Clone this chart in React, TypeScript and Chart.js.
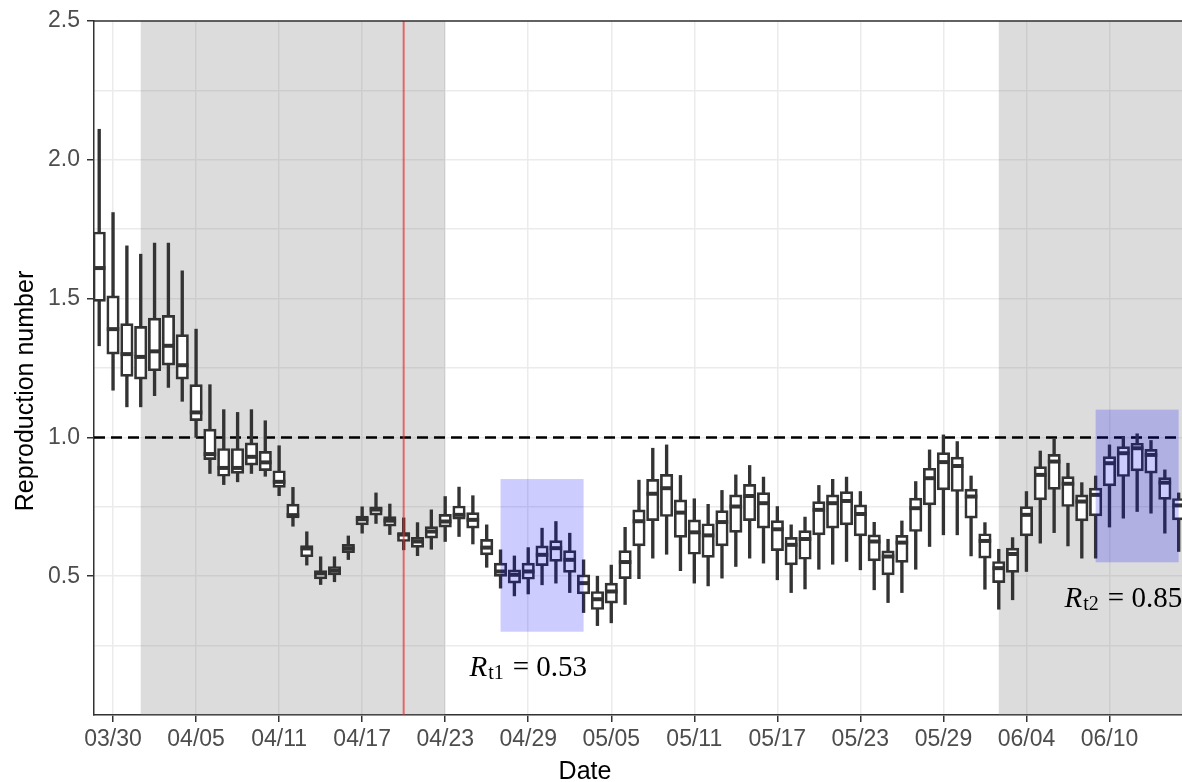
import { useEffect, useRef } from "react";
import { Chart, registerables } from "chart.js";

Chart.register(...registerables);

// ---- categories (one box per day) ----
const dates = [
  "03/29", "03/30", "03/31",
  "04/01", "04/02", "04/03", "04/04", "04/05", "04/06", "04/07", "04/08", "04/09", "04/10",
  "04/11", "04/12", "04/13", "04/14", "04/15", "04/16", "04/17", "04/18", "04/19", "04/20",
  "04/21", "04/22", "04/23", "04/24", "04/25", "04/26", "04/27", "04/28", "04/29", "04/30",
  "05/01", "05/02", "05/03", "05/04", "05/05", "05/06", "05/07", "05/08", "05/09", "05/10",
  "05/11", "05/12", "05/13", "05/14", "05/15", "05/16", "05/17", "05/18", "05/19", "05/20",
  "05/21", "05/22", "05/23", "05/24", "05/25", "05/26", "05/27", "05/28", "05/29", "05/30",
  "05/31",
  "06/01", "06/02", "06/03", "06/04", "06/05", "06/06", "06/07", "06/08", "06/09", "06/10",
  "06/11", "06/12", "06/13", "06/14", "06/15",
];

// ---- box plot statistics ----
const lowWhisker = [
  1.33, 1.17, 1.11, 1.11, 1.15, 1.18, 1.13, 1.0, 0.87, 0.83,
  0.84, 0.87, 0.86, 0.79, 0.68, 0.54, 0.47, 0.48, 0.56, 0.655,
  0.69, 0.65, 0.595, 0.574, 0.597, 0.625, 0.643, 0.616, 0.532, 0.457,
  0.429, 0.436, 0.469, 0.475, 0.441, 0.369, 0.322, 0.332, 0.398, 0.491,
  0.565, 0.579, 0.52, 0.475, 0.465, 0.493, 0.535, 0.565, 0.547, 0.487,
  0.441, 0.454, 0.525, 0.543, 0.553, 0.523, 0.451, 0.405, 0.441, 0.525,
  0.607, 0.649, 0.649, 0.573, 0.453, 0.381, 0.415, 0.517, 0.619, 0.657,
  0.609, 0.565, 0.565, 0.677, 0.709, 0.733, 0.727, 0.655, 0.589,
];
const q1 = [
  1.49, 1.3, 1.22, 1.21, 1.24, 1.26, 1.21, 1.06, 0.92, 0.86,
  0.87, 0.9, 0.88, 0.82, 0.71, 0.57, 0.49, 0.505, 0.585, 0.685,
  0.72, 0.68, 0.625, 0.604, 0.637, 0.677, 0.705, 0.673, 0.577, 0.499,
  0.475, 0.489, 0.538, 0.553, 0.514, 0.436, 0.38, 0.403, 0.491, 0.609,
  0.7, 0.715, 0.64, 0.579, 0.568, 0.609, 0.658, 0.7, 0.673, 0.592,
  0.541, 0.561, 0.649, 0.673, 0.685, 0.645, 0.555, 0.505, 0.55, 0.661,
  0.757, 0.811, 0.805, 0.709, 0.565, 0.477, 0.514, 0.645, 0.775, 0.813,
  0.751, 0.699, 0.717, 0.825, 0.859, 0.879, 0.871, 0.777, 0.703,
];
const median = [
  1.61, 1.39, 1.3, 1.29, 1.31, 1.33, 1.26, 1.09, 0.94, 0.89,
  0.89, 0.93, 0.91, 0.84, 0.72, 0.6, 0.51, 0.52, 0.6, 0.705,
  0.74, 0.7, 0.65, 0.625, 0.661, 0.697, 0.721, 0.703, 0.603, 0.517,
  0.505, 0.517, 0.577, 0.601, 0.559, 0.475, 0.417, 0.445, 0.551, 0.698,
  0.797, 0.817, 0.729, 0.658, 0.647, 0.695, 0.751, 0.789, 0.763, 0.669,
  0.613, 0.634, 0.739, 0.763, 0.771, 0.724, 0.625, 0.571, 0.621, 0.745,
  0.853, 0.911, 0.897, 0.787, 0.627, 0.529, 0.58, 0.721, 0.865, 0.913,
  0.833, 0.769, 0.793, 0.907, 0.943, 0.961, 0.937, 0.837, 0.755,
];
const q3 = [
  1.74, 1.51, 1.41, 1.4, 1.43, 1.44, 1.37, 1.19, 1.03, 0.96,
  0.96, 0.98, 0.95, 0.88, 0.76, 0.61, 0.52, 0.535, 0.615, 0.717,
  0.75, 0.715, 0.657, 0.64, 0.679, 0.723, 0.753, 0.729, 0.633, 0.547,
  0.523, 0.547, 0.609, 0.628, 0.592, 0.505, 0.445, 0.475, 0.592, 0.739,
  0.849, 0.867, 0.775, 0.703, 0.689, 0.736, 0.793, 0.831, 0.801, 0.7,
  0.64, 0.664, 0.769, 0.793, 0.805, 0.757, 0.649, 0.591, 0.647, 0.781,
  0.889, 0.945, 0.929, 0.814, 0.653, 0.553, 0.601, 0.751, 0.895, 0.939,
  0.859, 0.793, 0.817, 0.931, 0.967, 0.979, 0.957, 0.855, 0.78,
];
const highWhisker = [
  2.11, 1.81, 1.69, 1.66, 1.7, 1.7, 1.6, 1.39, 1.19, 1.1,
  1.09, 1.1, 1.06, 0.97, 0.82, 0.66, 0.57, 0.57, 0.645, 0.75,
  0.8, 0.76, 0.71, 0.693, 0.739, 0.787, 0.821, 0.79, 0.685, 0.595,
  0.573, 0.603, 0.673, 0.697, 0.655, 0.559, 0.5, 0.54, 0.676, 0.846,
  0.961, 0.973, 0.863, 0.779, 0.759, 0.809, 0.865, 0.899, 0.857, 0.751,
  0.685, 0.713, 0.827, 0.849, 0.857, 0.805, 0.694, 0.633, 0.699, 0.841,
  0.955, 1.009, 0.985, 0.861, 0.693, 0.597, 0.639, 0.805, 0.951, 0.993,
  0.907, 0.837, 0.861, 0.973, 1.003, 1.013, 0.989, 0.883, 0.8,
];

// ---- axis ticks ----
const xTickLabels = [
  "03/30", "04/05", "04/11", "04/17", "04/23", "04/29", "05/05",
  "05/11", "05/17", "05/23", "05/29", "06/04", "06/10",
];
const yTickLabels = ["0.5", "1.0", "1.5", "2.0", "2.5"];

// ---- annotations ----
const grayPeriods: [string, string][] = [
  ["04/01", "04/23"],
  ["06/02", "06/17"],
];
const redLineDate = "04/20";
const refLineValue = 1.0;
const bluePeriods: [string, string, number, number][] = [
  ["04/27", "05/03", 0.3, 0.85],
  ["06/09", "06/15", 0.55, 1.1],
];
const rtLabels = [
  { date: "04/29", y: 0.14, sub: "t1", text: "= 0.53" },
  { date: "06/11", y: 0.39, sub: "t2", text: "= 0.85" },
];

function dayIndex(label: string): number {
  const [m, d] = label.split("/").map(Number);
  const t = Date.UTC(2020, m - 1, d);
  const t0 = Date.UTC(2020, 2, 29);
  return Math.round((t - t0) / 86400000);
}

const SANS = '"Liberation Sans", Arial, Helvetica, sans-serif';
const SERIF = '"Liberation Serif", "Times New Roman", serif';
const INK = "#333333";

const decorPlugin = {
  id: "decor",
  beforeDatasetsDraw(chart: any) {
    const { ctx, chartArea: a, scales } = chart;
    const x = scales.x;
    const y = scales.y;
    ctx.save();
    ctx.beginPath();
    ctx.rect(a.left, a.top, a.right - a.left, a.bottom - a.top);
    ctx.clip();
    ctx.fillStyle = "rgba(127,127,127,0.27)";
    for (const [f, t] of grayPeriods) {
      const x0 = x.getPixelForValue(dayIndex(f));
      const x1 = x.getPixelForValue(dayIndex(t));
      ctx.fillRect(x0, a.top, x1 - x0, a.bottom - a.top);
    }
    const yy = y.getPixelForValue(refLineValue);
    ctx.strokeStyle = "#000000";
    ctx.lineWidth = 2.5;
    ctx.setLineDash([11, 6]);
    ctx.beginPath();
    ctx.moveTo(a.left, yy);
    ctx.lineTo(a.right, yy);
    ctx.stroke();
    ctx.restore();
  },
  afterDatasetsDraw(chart: any) {
    const { ctx, chartArea: a, scales } = chart;
    const x = scales.x;
    const y = scales.y;
    ctx.save();
    ctx.beginPath();
    ctx.rect(a.left, a.top, a.right - a.left, a.bottom - a.top);
    ctx.clip();
    // red vertical line
    const xr = x.getPixelForValue(dayIndex(redLineDate));
    ctx.strokeStyle = "rgba(235,40,40,0.65)";
    ctx.lineWidth = 2;
    ctx.beginPath();
    ctx.moveTo(xr, a.top);
    ctx.lineTo(xr, a.bottom);
    ctx.stroke();
    // blue rectangles
    ctx.fillStyle = "rgba(0,0,255,0.2)";
    for (const [f, t, lo, hi] of bluePeriods) {
      const x0 = x.getPixelForValue(dayIndex(f));
      const x1 = x.getPixelForValue(dayIndex(t));
      const y0 = y.getPixelForValue(hi);
      const y1 = y.getPixelForValue(lo);
      ctx.fillRect(x0, y0, x1 - x0, y1 - y0);
    }
    ctx.restore();

    // R_t labels
    ctx.save();
    ctx.fillStyle = "#000000";
    ctx.textBaseline = "alphabetic";
    ctx.textAlign = "left";
    for (const lab of rtLabels) {
      const fontR = `italic 29px ${SERIF}`;
      const fontSub = `20px ${SERIF}`;
      const fontTxt = `29px ${SERIF}`;
      ctx.font = fontR;
      const wR = ctx.measureText("R").width;
      ctx.font = fontSub;
      const wS = ctx.measureText(lab.sub).width;
      ctx.font = fontTxt;
      const wT = ctx.measureText(lab.text).width;
      const gap1 = 1;
      const gap2 = 9;
      const total = wR + gap1 + wS + gap2 + wT;
      const cx = x.getPixelForValue(dayIndex(lab.date));
      const by = y.getPixelForValue(lab.y);
      let px = cx - total / 2;
      ctx.font = fontR;
      ctx.fillText("R", px, by);
      px += wR + gap1;
      ctx.font = fontSub;
      ctx.fillText(lab.sub, px, by + 3);
      px += wS + gap2;
      ctx.font = fontTxt;
      ctx.fillText(lab.text, px, by);
    }
    ctx.restore();

    // top border of the panel
    ctx.save();
    ctx.strokeStyle = INK;
    ctx.lineWidth = 1.5;
    ctx.beginPath();
    ctx.moveTo(a.left, a.top);
    ctx.lineTo(a.right, a.top);
    ctx.stroke();
    ctx.restore();
  },
  afterDraw(chart: any) {
    const { ctx } = chart;
    ctx.save();
    ctx.fillStyle = "#000000";
    ctx.font = `25px ${SANS}`;
    ctx.textAlign = "center";
    ctx.textBaseline = "alphabetic";
    ctx.fillText("Date", 585, 779);
    ctx.translate(26, 391);
    ctx.rotate(-Math.PI / 2);
    ctx.textBaseline = "middle";
    ctx.fillText("Reproduction number", 0, 0);
    ctx.restore();
  },
};

export default function App() {
  const ref = useRef<HTMLCanvasElement | null>(null);

  useEffect(() => {
    document.body.style.margin = "0";
    const canvas = ref.current;
    if (!canvas) return;
    const idx = dates.map((_, i) => i);
    const xTicks = xTickLabels.map((l) => dayIndex(l));
    const isLabeledY = (v: number) =>
      yTickLabels.some((l) => Math.abs(parseFloat(l) - v) < 1e-6);

    const chart = new Chart(canvas, {
      type: "bar",
      data: {
        datasets: [
          {
            type: "bar",
            label: "whisker",
            data: idx.map((i) => ({ x: i, y: [lowWhisker[i], highWhisker[i]] })) as any,
            backgroundColor: INK,
            borderWidth: 0,
            barThickness: 2.7,
            maxBarThickness: 2.7,
            grouped: false,
            order: 3,
          } as any,
          {
            type: "bar",
            label: "box",
            data: idx.map((i) => ({ x: i, y: [q1[i], q3[i]] })) as any,
            backgroundColor: "#ffffff",
            borderColor: INK,
            borderWidth: 2.7,
            borderSkipped: false,
            barThickness: 12.5,
            maxBarThickness: 12.5,
            grouped: false,
            order: 2,
          } as any,
          {
            type: "scatter",
            label: "median",
            data: idx.map((i) => ({ x: i, y: median[i] })),
            showLine: false,
            pointStyle: "line",
            pointRadius: 6.25,
            pointBorderWidth: 4,
            pointBorderColor: INK,
            borderColor: INK,
            order: 1,
          } as any,
        ],
      },
      options: {
        responsive: false,
        animation: false,
        devicePixelRatio: 1,
        events: [],
        layout: { autoPadding: false, padding: { top: 21, right: 0, bottom: 0, left: 0 } },
        plugins: {
          legend: { display: false },
          tooltip: { enabled: false },
        },
        scales: {
          x: {
            type: "linear",
            min: -0.376,
            max: 78.24,
            offset: false,
            afterBuildTicks: (s: any) => {
              s.ticks = xTicks.map((v) => ({ value: v }));
            },
            afterFit: (s: any) => {
              s.height = 67;
            },
            grid: {
              offset: false,
              color: "#EBEBEB",
              lineWidth: 1.5,
              tickColor: INK,
              tickLength: 7,
              tickWidth: 1.5,
            },
            border: { display: true, color: INK, width: 1.5 },
            ticks: {
              autoSkip: false,
              maxRotation: 0,
              minRotation: 0,
              padding: 4,
              color: "#4D4D4D",
              font: { family: SANS, size: 23 },
              callback: (v: any) => dates[Number(v)] ?? "",
            },
          },
          y: {
            type: "linear",
            min: 0,
            max: 2.5,
            afterFit: (s: any) => {
              s.width = 94;
            },
            grid: {
              color: "#EBEBEB",
              lineWidth: 1.5,
              tickLength: 7,
              tickWidth: 1.5,
              tickColor: (c: any) =>
                c.tick && isLabeledY(c.tick.value) ? INK : "rgba(0,0,0,0)",
            },
            border: { display: true, color: INK, width: 1.5 },
            ticks: {
              stepSize: 0.25,
              padding: 7,
              color: "#4D4D4D",
              font: { family: SANS, size: 23 },
              callback: (v: any) => {
                const n = Number(v);
                const hit = yTickLabels.find((l) => Math.abs(parseFloat(l) - n) < 1e-6);
                return hit ?? "";
              },
            },
          },
        },
      } as any,
      plugins: [decorPlugin],
    });
    return () => chart.destroy();
  }, []);

  return (
    <div style={{ width: 1182, height: 782 }}>
      <canvas ref={ref} width={1182} height={782} style={{ display: "block" }} />
    </div>
  );
}
